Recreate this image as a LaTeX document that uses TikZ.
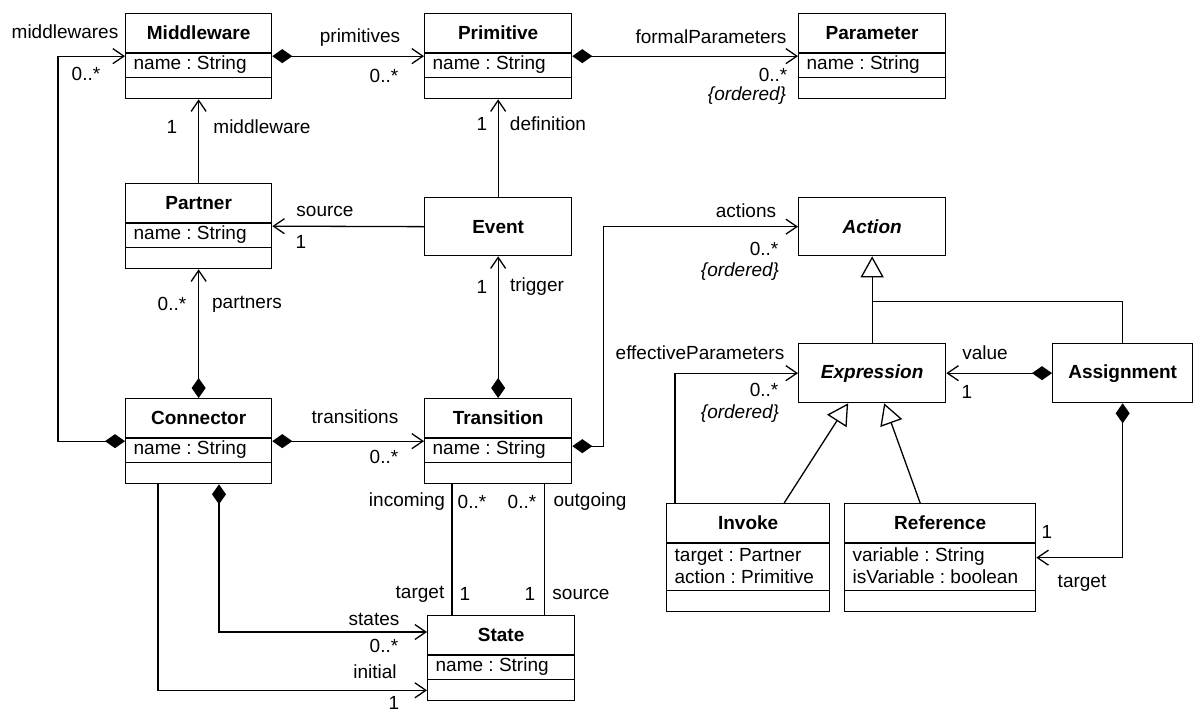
\documentclass[tikz,border=0pt]{standalone}
\usepackage{fontspec}
\setmainfont{Liberation Sans}
\usetikzlibrary{arrows.meta,calc}
\frenchspacing

\newcommand{\diagfont}{\fontsize{19}{22}\selectfont}

% class box with name, attribute and operation compartments
\newcommand{\umlclass}[6]{%
  \node[classbox, anchor=north west, minimum width=#3, minimum height=62+23*#6] (#1) at (#2) {};
  \node[classname] (#1-name) at ($(#1.north)+(0,20)$) {#4};
  \draw ($(#1.north west)+(0,40)$) -- ($(#1.north east)+(0,40)$);
  \draw ($(#1.south west)+(0,-22)$) -- ($(#1.south east)+(0,-22)$);
  \node[classattr, anchor=west] (#1-attr) at ($(#1.north west)+(8,40+11.5*#6)$) {#5};
}

\tikzset{
  classbox/.style={draw, line width=1.3pt, inner sep=0pt},
  classname/.style={font=\diagfont\bfseries, inner sep=0pt},
  classattr/.style={align=left, inner sep=0pt},
  lbl/.style={inner sep=0pt},
  assoc/.style={-{Straight Barb[length=11pt,width=15pt]}},
  comp/.style={{Diamond[length=20pt,width=14pt]}-{Straight Barb[length=11pt,width=15pt]}},
  gen/.style={-{Triangle[open,length=21pt,width=23pt,fill=white]}},
}

\begin{document}
\begin{tikzpicture}[x=1pt,y=-1pt,line width=1.3pt,font=\diagfont]
\useasboundingbox (0,0) rectangle (1193,713);

\umlclass{middleware}{125,13}{146}{Middleware}{name : String}{1}
\umlclass{primitive}{424,13}{147}{Primitive}{name : String}{1}
\umlclass{parameter}{798,13}{147}{Parameter}{name : String}{1}
\umlclass{partner}{125,183}{146}{Partner}{name : String}{1}
\umlclass{connector}{125,398}{146}{Connector}{name : String}{1}
\umlclass{transition}{424,398}{147}{Transition}{name : String}{1}
\umlclass{state}{427,615}{147}{State}{name : String}{1}
\umlclass{invoke}{666,503}{163}{Invoke}{target : Partner\\action : Primitive}{2}
\umlclass{reference}{844,503}{191}{Reference}{variable : String\\isVariable : boolean}{2}

\node[classbox, anchor=north west, minimum width=147, minimum height=58] (event) at (424,197) {\bfseries Event};
\node[classbox, anchor=north west, minimum width=147, minimum height=58] (action) at (798,197) {\bfseries\itshape Action};
\node[classbox, anchor=north west, minimum width=147, minimum height=59] (expression) at (798,343) {\bfseries\itshape Expression};
\node[classbox, anchor=north west, minimum width=140, minimum height=59] (assignment) at (1052,343) {\bfseries Assignment};

% associations
\draw[comp] (middleware.east) -- (primitive.west);
\draw[comp] (primitive.east) -- (parameter.west);
\draw[assoc] (partner.north) -- (middleware.south);
\draw[assoc] (event.north) -- (primitive.south);
\draw[assoc] (event.west) -- (partner.east);
\draw[comp] (connector.north) -- (partner.south);
\draw[comp] (transition.north) -- (event.south);
\draw[comp] (connector.west) -- ++(-67,0) |- (middleware.west);
\draw[comp] (connector.east) -- (transition.west);
\draw[comp] ($(transition.east)+(0,5)$) -- ++(31,0) |- (action.west);

\coordinate (in-top) at ($(transition.south west)+(28,0)$);
\coordinate (out-top) at ($(transition.south east)+(-28,0)$);
\draw (in-top) -- (in-top |- state.north);
\draw (out-top) -- (out-top |- state.north);

\draw[comp] ($(connector.south west)+(94,0)$) |- ($(state.north west)+(0,17)$);
\draw[assoc] ($(connector.south west)+(33,0)$) |- ($(state.south west)+(0,-11)$);

% generalizations
\draw[gen] (expression.north) -- (action.south);
\draw (assignment.north) |- ($(action.south)!0.52!(expression.north)$);
\draw[gen] ($(invoke.north)+(36,0)$) -- ($(expression.south)+(-24,0)$);
\draw[gen] ($(reference.north)+(-20,0)$) -- ($(expression.south)+(12,0)$);

\draw[comp] (assignment.west) -- (expression.east);
\draw[comp] (assignment.south) |- (reference.east);
\draw[assoc] ($(invoke.north west)+(9,0)$) |- (expression.west);

% role names and multiplicities
\node[lbl] (lbl-middlewares) at (65,32) {middlewares};
\node[lbl] (lbl-middlewares-m) at (86,74) {0..*};
\node[lbl] (lbl-primitives) at (360,38) {primitives};
\node[lbl] (lbl-primitives-m) at (384,76) {0..*};
\node[lbl] (lbl-middleware-m) at (172,127) {1};
\node[lbl] (lbl-middleware) at (262,127) {middleware};
\node[lbl] (lbl-formal) at (711,37) {formalParameters};
\node[lbl] (lbl-formal-m) at (773,75) {0..*};
\node[lbl] (lbl-formal-o) at (747,96) {\itshape\{ordered\}};
\node[lbl] (lbl-definition-m) at (482,124) {1};
\node[lbl] (lbl-definition) at (548,124) {definition};
\node[lbl] (lbl-source) at (325,211) {source};
\node[lbl] (lbl-source-m) at (301,242) {1};
\node[lbl] (lbl-partners-m) at (172,304) {0..*};
\node[lbl] (lbl-partners) at (247,304) {partners};
\node[lbl] (lbl-transitions) at (355,417) {transitions};
\node[lbl] (lbl-transitions-m) at (384,457) {0..*};
\node[lbl] (lbl-trigger-m) at (482,287) {1};
\node[lbl] (lbl-trigger) at (537,287) {trigger};
\node[lbl] (lbl-actions) at (746,211) {actions};
\node[lbl] (lbl-actions-m) at (764,249) {0..*};
\node[lbl] (lbl-actions-o) at (740,272) {\itshape\{ordered\}};
\node[lbl] (lbl-effective) at (700,353) {effectiveParameters};
\node[lbl] (lbl-effective-m) at (764,390) {0..*};
\node[lbl] (lbl-effective-o) at (740,414) {\itshape\{ordered\}};
\node[lbl] (lbl-value) at (985,353) {value};
\node[lbl] (lbl-value-m) at (967,392) {1};
\node[lbl] (lbl-incoming) at (407,502) {incoming};
\node[lbl] (lbl-incoming-m) at (472,502) {0..*};
\node[lbl] (lbl-outgoing-m) at (522,502) {0..*};
\node[lbl] (lbl-outgoing) at (590,502) {outgoing};
\node[lbl] (lbl-target) at (420,594) {target};
\node[lbl] (lbl-target-m) at (465,594) {1};
\node[lbl] (lbl-src-m) at (530,594) {1};
\node[lbl] (lbl-src) at (581,594) {source};
\node[lbl] (lbl-states) at (374,619) {states};
\node[lbl] (lbl-states-m) at (384,646) {0..*};
\node[lbl] (lbl-initial) at (375,672) {initial};
\node[lbl] (lbl-initial-m) at (394,703) {1};
\node[lbl] (lbl-reftarget-m) at (1047,532) {1};
\node[lbl] (lbl-reftarget) at (1082,583) {target};
\end{tikzpicture}
\end{document}
